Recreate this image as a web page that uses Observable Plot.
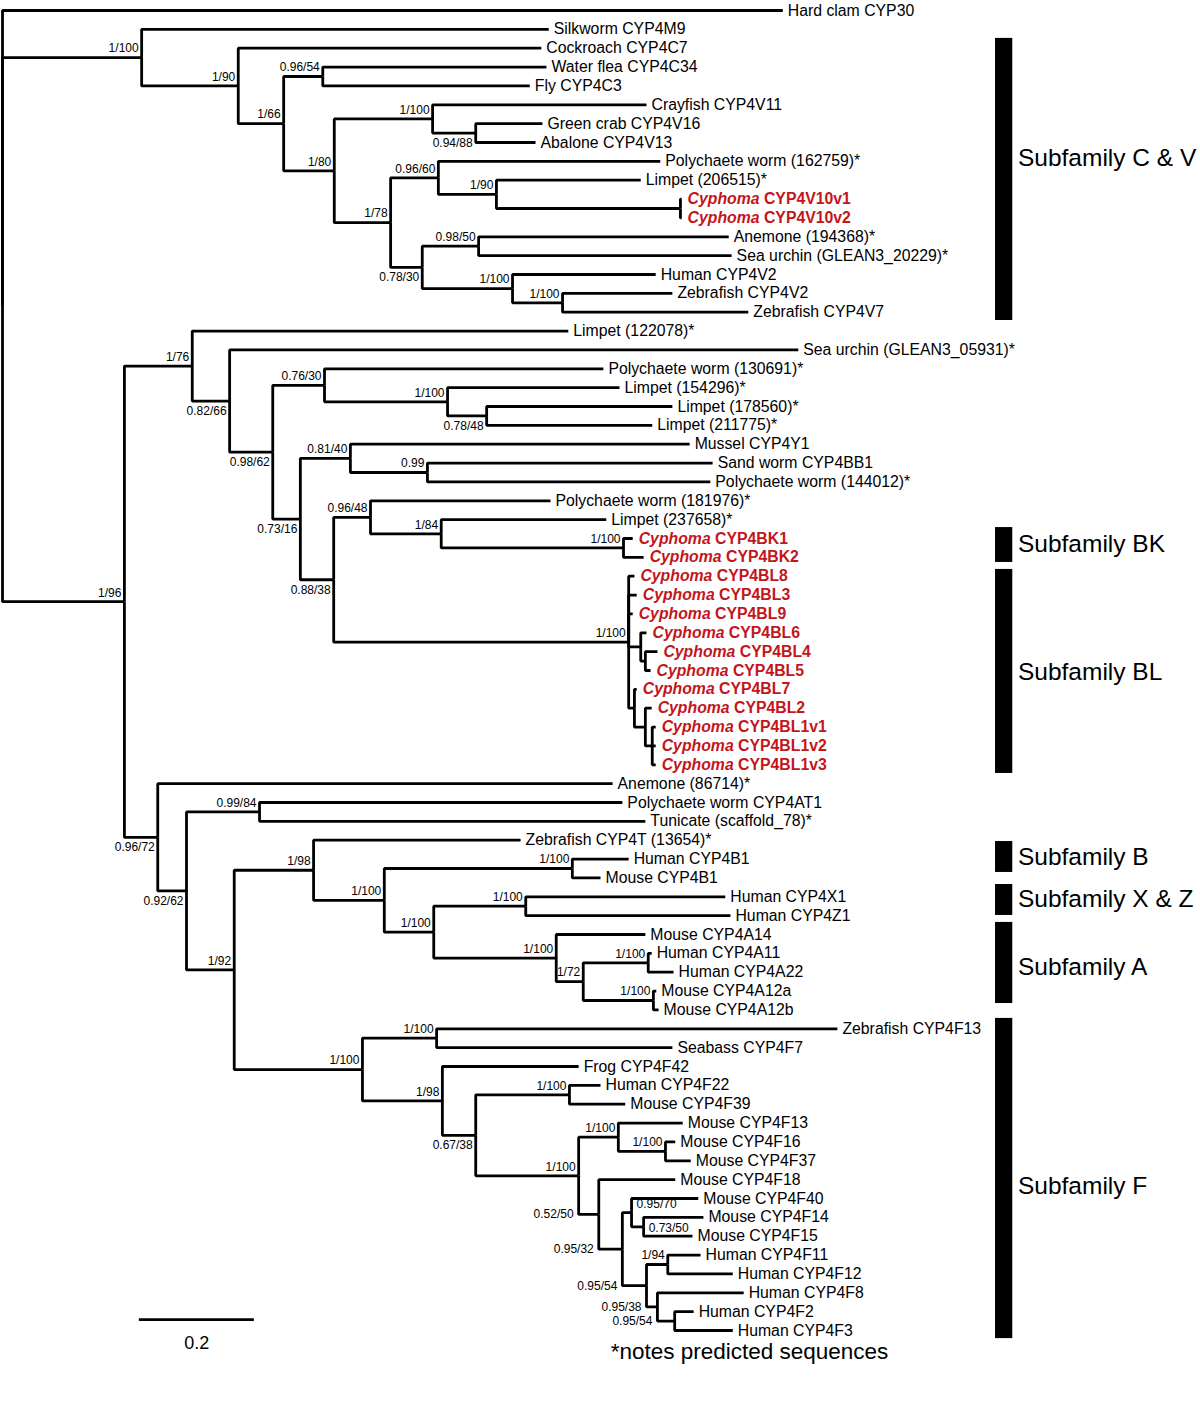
<!DOCTYPE html>
<html><head><meta charset="utf-8">
<script src="https://cdn.jsdelivr.net/npm/d3@7"></script>
<script src="https://cdn.jsdelivr.net/npm/@observablehq/plot@0.6"></script>
<style>
html,body{margin:0;padding:0;background:#fff;}
#chart svg{display:block;}
</style></head><body><div id="chart"></div>
<script>
// ---- Leaves (top to bottom order): name, parent node, distance from root ----
const leaves = [
  {name:"Hard clam CYP30", parent:"root", depth:1.357},
  {name:"Silkworm CYP4M9", parent:"n1", depth:0.950},
  {name:"Cockroach CYP4C7", parent:"n2", depth:0.937},
  {name:"Water flea CYP4C34", parent:"n4", depth:0.946},
  {name:"Fly CYP4C3", parent:"n4", depth:0.917},
  {name:"Crayfish CYP4V11", parent:"n6", depth:1.120},
  {name:"Green crab CYP4V16", parent:"n8", depth:0.939},
  {name:"Abalone CYP4V13", parent:"n8", depth:0.927},
  {name:"Polychaete worm (162759)*", parent:"n9", depth:1.144},
  {name:"Limpet (206515)*", parent:"n11", depth:1.110},
  {name:"Cyphoma CYP4V10v1", parent:"n12", depth:1.181},
  {name:"Cyphoma CYP4V10v2", parent:"n12", depth:1.181},
  {name:"Anemone (194368)*", parent:"n13", depth:1.263},
  {name:"Sea urchin (GLEAN3_20229)*", parent:"n13", depth:1.268},
  {name:"Human CYP4V2", parent:"n14", depth:1.136},
  {name:"Zebrafish CYP4V2", parent:"n15", depth:1.165},
  {name:"Zebrafish CYP4V7", parent:"n15", depth:1.297},
  {name:"Limpet (122078)*", parent:"na", depth:0.984},
  {name:"Sea urchin (GLEAN3_05931)*", parent:"nc", depth:1.384},
  {name:"Polychaete worm (130691)*", parent:"ne", depth:1.045},
  {name:"Limpet (154296)*", parent:"ng", depth:1.073},
  {name:"Limpet (178560)*", parent:"nh", depth:1.165},
  {name:"Limpet (211775)*", parent:"nh", depth:1.130},
  {name:"Mussel CYP4Y1", parent:"ni", depth:1.195},
  {name:"Sand worm CYP4BB1", parent:"nk", depth:1.235},
  {name:"Polychaete worm (144012)*", parent:"nk", depth:1.231},
  {name:"Polychaete worm (181976)*", parent:"nl", depth:0.953},
  {name:"Limpet (237658)*", parent:"nm", depth:1.050},
  {name:"Cyphoma CYP4BK1", parent:"nBK", depth:1.096},
  {name:"Cyphoma CYP4BK2", parent:"nBK", depth:1.115},
  {name:"Cyphoma CYP4BL8", parent:"nBL", depth:1.099},
  {name:"Cyphoma CYP4BL3", parent:"nBL", depth:1.103},
  {name:"Cyphoma CYP4BL9", parent:"nBL", depth:1.096},
  {name:"Cyphoma CYP4BL6", parent:"nBL6", depth:1.120},
  {name:"Cyphoma CYP4BL4", parent:"nBL45", depth:1.139},
  {name:"Cyphoma CYP4BL5", parent:"nBL45", depth:1.127},
  {name:"Cyphoma CYP4BL7", parent:"nBLd", depth:1.103},
  {name:"Cyphoma CYP4BL2", parent:"nBL2", depth:1.129},
  {name:"Cyphoma CYP4BL1v1", parent:"nBL1", depth:1.136},
  {name:"Cyphoma CYP4BL1v2", parent:"nBL1", depth:1.136},
  {name:"Cyphoma CYP4BL1v3", parent:"nBL1", depth:1.136},
  {name:"Anemone (86714)*", parent:"nb", depth:1.061},
  {name:"Polychaete worm CYP4AT1", parent:"no", depth:1.078},
  {name:"Tunicate (scaffold_78)*", parent:"no", depth:1.118},
  {name:"Zebrafish CYP4T (13654)*", parent:"nq", depth:0.901},
  {name:"Human CYP4B1", parent:"nB", depth:1.089},
  {name:"Mouse CYP4B1", parent:"nB", depth:1.040},
  {name:"Human CYP4X1", parent:"nXZ", depth:1.257},
  {name:"Human CYP4Z1", parent:"nXZ", depth:1.266},
  {name:"Mouse CYP4A14", parent:"nA", depth:1.118},
  {name:"Human CYP4A11", parent:"nA11", depth:1.129},
  {name:"Human CYP4A22", parent:"nA11", depth:1.167},
  {name:"Mouse CYP4A12a", parent:"nA12", depth:1.137},
  {name:"Mouse CYP4A12b", parent:"nA12", depth:1.141},
  {name:"Zebrafish CYP4F13", parent:"nfish", depth:1.452},
  {name:"Seabass CYP4F7", parent:"nfish", depth:1.165},
  {name:"Frog CYP4F42", parent:"n98", depth:1.002},
  {name:"Human CYP4F22", parent:"nF22", depth:1.040},
  {name:"Mouse CYP4F39", parent:"nF22", depth:1.083},
  {name:"Mouse CYP4F13", parent:"nF13", depth:1.183},
  {name:"Mouse CYP4F16", parent:"nF16", depth:1.170},
  {name:"Mouse CYP4F37", parent:"nF16", depth:1.197},
  {name:"Mouse CYP4F18", parent:"n52", depth:1.170},
  {name:"Mouse CYP4F40", parent:"n70", depth:1.210},
  {name:"Mouse CYP4F14", parent:"n73", depth:1.219},
  {name:"Mouse CYP4F15", parent:"n73", depth:1.200},
  {name:"Human CYP4F11", parent:"n94", depth:1.214},
  {name:"Human CYP4F12", parent:"n94", depth:1.270},
  {name:"Human CYP4F8", parent:"n38", depth:1.289},
  {name:"Human CYP4F2", parent:"nF2", depth:1.202},
  {name:"Human CYP4F3", parent:"nF2", depth:1.270}
];

// ---- Internal nodes: id, parent, distance from root ----
const internalNodes = [
  {id:"root", parent:null, depth:0},
  {id:"n1", parent:"root", depth:0.242},
  {id:"n2", parent:"n1", depth:0.410},
  {id:"n3", parent:"n2", depth:0.489},
  {id:"n4", parent:"n3", depth:0.557},
  {id:"n5", parent:"n3", depth:0.577},
  {id:"n6", parent:"n5", depth:0.748},
  {id:"n8", parent:"n6", depth:0.823},
  {id:"n7", parent:"n5", depth:0.675},
  {id:"n9", parent:"n7", depth:0.758},
  {id:"n11", parent:"n9", depth:0.859},
  {id:"n12", parent:"n11", depth:1.179},
  {id:"n10", parent:"n7", depth:0.730},
  {id:"n13", parent:"n10", depth:0.828},
  {id:"n14", parent:"n10", depth:0.887},
  {id:"n15", parent:"n14", depth:0.974},
  {id:"n96", parent:"root", depth:0.212},
  {id:"na", parent:"n96", depth:0.330},
  {id:"nc", parent:"na", depth:0.395},
  {id:"nd", parent:"nc", depth:0.470},
  {id:"ne", parent:"nd", depth:0.560},
  {id:"ng", parent:"ne", depth:0.774},
  {id:"nh", parent:"ng", depth:0.842},
  {id:"nf", parent:"nd", depth:0.518},
  {id:"ni", parent:"nf", depth:0.605},
  {id:"nk", parent:"ni", depth:0.739},
  {id:"nj", parent:"nf", depth:0.576},
  {id:"nl", parent:"nj", depth:0.640},
  {id:"nm", parent:"nl", depth:0.763},
  {id:"nBK", parent:"nm", depth:1.080},
  {id:"nBL", parent:"nj", depth:1.089},
  {id:"nBL6", parent:"nBL", depth:1.110},
  {id:"nBL45", parent:"nBL6", depth:1.118},
  {id:"nBLd", parent:"nBL", depth:1.099},
  {id:"nBL2", parent:"nBLd", depth:1.118},
  {id:"nBL1", parent:"nBL2", depth:1.130},
  {id:"nb", parent:"n96", depth:0.270},
  {id:"nn", parent:"nb", depth:0.320},
  {id:"no", parent:"nn", depth:0.447},
  {id:"np", parent:"nn", depth:0.403},
  {id:"nq", parent:"np", depth:0.541},
  {id:"nr", parent:"nq", depth:0.664},
  {id:"nB", parent:"nr", depth:0.991},
  {id:"ns", parent:"nr", depth:0.750},
  {id:"nXZ", parent:"ns", depth:0.910},
  {id:"nA", parent:"ns", depth:0.963},
  {id:"nA72", parent:"nA", depth:1.010},
  {id:"nA11", parent:"nA72", depth:1.123},
  {id:"nA12", parent:"nA72", depth:1.132},
  {id:"nF", parent:"np", depth:0.626},
  {id:"nfish", parent:"nF", depth:0.755},
  {id:"n98", parent:"nF", depth:0.765},
  {id:"n67", parent:"n98", depth:0.823},
  {id:"nF22", parent:"n67", depth:0.986},
  {id:"n1100", parent:"n67", depth:1.002},
  {id:"nF13", parent:"n1100", depth:1.071},
  {id:"nF16", parent:"nF13", depth:1.153},
  {id:"n52", parent:"n1100", depth:1.037},
  {id:"n32", parent:"n52", depth:1.078},
  {id:"n70", parent:"n32", depth:1.094},
  {id:"n73", parent:"n70", depth:1.115},
  {id:"n54", parent:"n32", depth:1.120},
  {id:"n94", parent:"n54", depth:1.157},
  {id:"n38", parent:"n54", depth:1.139},
  {id:"nF2", parent:"n38", depth:1.169}
];

// ---- Support values (Bayesian posterior / bootstrap) ----
const supportNodes  = ["n1","n2","n3","n4","n5","n6","n8","n7","n9","n11","n10","n13","n14","n15","n96","na","nc","nd","ne","ng","nh","nf","ni","nk","nj","nl","nm","nBK","nBL","nb","nn","no","np","nq","nr","nB","ns","nXZ","nA","nA72","nA11","nA12","nF","nfish","n98","n67","nF22","n1100","nF13","nF16","n52","n32","n70","n73","n54","n94","n38","nF2"];
const supportLabels = ["1/100","1/90","1/66","0.96/54","1/80","1/100","0.94/88","1/78","0.96/60","1/90","0.78/30","0.98/50","1/100","1/100","1/96","1/76","0.82/66","0.98/62","0.76/30","1/100","0.78/48","0.73/16","0.81/40","0.99","0.88/38","0.96/48","1/84","1/100","1/100","0.96/72","0.92/62","0.99/84","1/92","1/98","1/100","1/100","1/100","1/100","1/100","1/72","1/100","1/100","1/100","1/100","1/98","0.67/38","1/100","1/100","1/100","1/100","0.52/50","0.95/32","0.95/70","0.73/50","0.95/54","1/94","0.95/38","0.95/54"];
const supportPlaces = ["above","above","above","above","above","above","below","above","above","above","below","above","above","above","above","above","below","below","above","above","below","below","above","above","below","above","above","above","above","below","below","above","above","above","above","above","above","above","above","above","above","above","above","above","above","below","above","above","above","above","left","left","rightup","right","left","above","left","left"];

// ---- Subfamily brackets (span in leaf rows) ----
const subfamilyNames = ["Subfamily C & V","Subfamily BK","Subfamily BL","Subfamily B","Subfamily X & Z","Subfamily A","Subfamily F"];
const subfamilyFrom  = [1.48, 27.42, 29.64, 44.07, 46.35, 48.36, 53.45];
const subfamilyTo    = [16.44, 29.27, 40.46, 45.71, 47.99, 52.66, 70.43];
const subfamilyLabelAt = [7.85, 28.32, 35.11, 44.92, 47.14, 50.75, 62.36];

// ---- Scale bar ----
const scaleBarStart = 0.238;
const scaleBarLength = 0.2;
const scaleBarLabel = "0.2";
const footnote = "*notes predicted sequences";

// ===== Build tree layout =====
const nodes = new Map();
internalNodes.forEach(n => nodes.set(n.id, {...n, children: [], leaf: false}));
leaves.forEach((l, i) => {
  const n = {id: l.name, parent: l.parent, depth: l.depth, y: i, leaf: true, children: []};
  nodes.set(l.name, n);
});
for (const n of nodes.values()) if (n.parent) nodes.get(n.parent).children.push(n);
function layoutY(n) {
  if (n.leaf) return n.y;
  const ys = n.children.map(layoutY);
  n.y = (d3.min(ys) + d3.max(ys)) / 2;
  return n.y;
}
layoutY(nodes.get("root"));

const edges = [...nodes.values()].filter(n => n.parent).map(n => {
  const p = nodes.get(n.parent);
  return {x1: p.depth, y1: p.y, x2: n.depth, y2: n.y};
});

const supports = supportNodes.map((id, i) => {
  const n = nodes.get(id);
  const p = nodes.get(n.parent);
  return {label: supportLabels[i], place: supportPlaces[i], x: n.depth, px: p.depth, y: n.y};
});

const leafRows = leaves.map((l, i) => ({...l, row: i, cyphoma: l.name.startsWith("Cyphoma ")}));
const subfamilies = subfamilyNames.map((name, i) => ({name, from: subfamilyFrom[i], to: subfamilyTo[i], at: subfamilyLabelAt[i]}));

const RED = "#c3161c";
const FONT = "Liberation Sans, Arial, Helvetica, sans-serif";
const barX1 = 1.727, barX2 = 1.757, barLabelX = 1.766;

const chart = Plot.plot({
  width: 1200,
  height: 1402,
  margin: 0,
  style: {fontFamily: FONT, background: "white", color: "black"},
  x: {domain: [0, 1], range: [2, 577], axis: null},
  y: {domain: [0, 70], range: [10, 1330], axis: null},
  marks: [
    Plot.link(edges, {x1: "x1", y1: "y1", x2: "x2", y2: "y2", curve: "step-before",
      stroke: "black", strokeWidth: 2.8, strokeLinejoin: "miter", strokeLinecap: "butt"}),
    Plot.text(leafRows.filter(d => !d.cyphoma), {x: "depth", y: "row", text: "name",
      textAnchor: "start", dx: 5, fontSize: 15.8, fill: "black"}),
    Plot.text(leafRows.filter(d => d.cyphoma), {x: "depth", y: "row", text: "name",
      textAnchor: "start", dx: 6, fontSize: 15.8, fontWeight: "bold", fill: RED}),
    Plot.text(supports.filter(d => d.place === "above"), {x: "x", y: "y", text: "label",
      textAnchor: "end", dx: -3, dy: -9, fontSize: 12}),
    Plot.text(supports.filter(d => d.place === "below"), {x: "x", y: "y", text: "label",
      textAnchor: "end", dx: -3, dy: 10, fontSize: 12}),
    Plot.text(supports.filter(d => d.place === "left"), {x: "px", y: "y", text: "label",
      textAnchor: "end", dx: -5, dy: 0, fontSize: 12}),
    Plot.text(supports.filter(d => d.place === "right"), {x: "x", y: "y", text: "label",
      textAnchor: "start", dx: 5, dy: 1, fontSize: 12}),
    Plot.text(supports.filter(d => d.place === "rightup"), {x: "x", y: "y", text: "label",
      textAnchor: "start", dx: 5, dy: -8, fontSize: 12}),
    Plot.rect(subfamilies, {x1: barX1, x2: barX2, y1: "from", y2: "to", fill: "black"}),
    Plot.text(subfamilies, {x: barLabelX, y: "at", text: "name", textAnchor: "start", fontSize: 24.5}),
    Plot.ruleY([69.42], {x1: scaleBarStart, x2: scaleBarStart + scaleBarLength, stroke: "black", strokeWidth: 2.8}),
    Plot.text([scaleBarLabel], {x: scaleBarStart + scaleBarLength / 2, y: 69.42, dy: 24, fontSize: 18}),
    Plot.text([footnote], {frameAnchor: "bottom", lineAnchor: "middle", dx: 149, dy: -51, fontSize: 22.5})
  ]
});

// italicise the genus name in the Cyphoma labels
d3.select(chart).selectAll("text").each(function() {
  const t = this.textContent;
  if (t.startsWith("Cyphoma ")) {
    const rest = t.slice(8);
    this.textContent = "";
    d3.select(this).append("tspan").attr("font-style", "italic").text("Cyphoma");
    d3.select(this).append("tspan").text(" " + rest);
  }
});

document.getElementById("chart").appendChild(chart);
</script></body></html>
